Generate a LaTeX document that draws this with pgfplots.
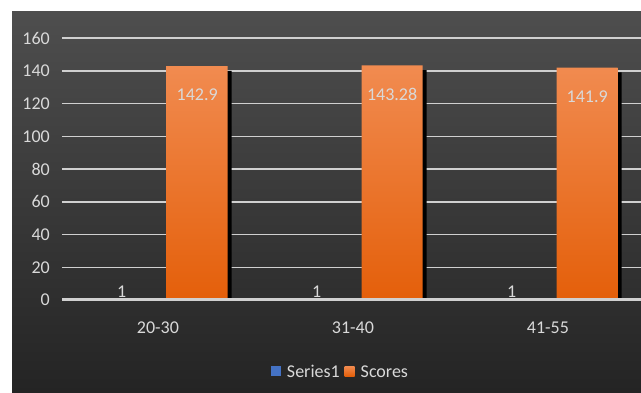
\documentclass[border=0pt]{standalone}
\usepackage{pgfplots}
\pgfplotsset{compat=1.18}
\usepackage{fontspec}
\setmainfont{Carlito}
\definecolor{txt}{HTML}{D9D9D9}
\definecolor{gridc}{HTML}{D0D0D0}
\definecolor{bgtop}{HTML}{4E4E4E}
\definecolor{bgbot}{HTML}{242424}
\definecolor{orTop}{HTML}{F18B50}
\definecolor{orBot}{HTML}{E45F0A}
\definecolor{blueS}{HTML}{4472C4}
\begin{document}
\begin{tikzpicture}
\useasboundingbox (0,0) rectangle (641pt,392pt);
\fill[white] (0,0) rectangle (641pt,392pt);
\shade[top color=bgtop, bottom color=bgbot] (12pt,0) rectangle (641pt,380pt);
\begin{axis}[
  at={(62pt,92pt)}, anchor=south west,
  scale only axis, width=579pt, height=262pt,
  xmin=-0.492, xmax=2.477, ymin=0, ymax=160,
  clip=false,
  axis line style={draw=none},
  major tick length=0pt,
  ytick={0,20,...,160},
  ymajorgrids, grid style={line width=1.5pt, color=gridc},
  xtick={0,1,2}, xticklabels={20-30,31-40,41-55},
  tick label style={font=\fontsize{18}{20}\selectfont, text=txt, inner sep=0pt},
  yticklabel shift=12pt,
  xticklabel shift=22pt,
  /pgf/number format/assume math mode=true,
  ybar, bar width=61pt,
  legend style={draw=none, fill=none, at={(0.481,-0.275)}, anchor=center,
    font=\fontsize{18}{20}\selectfont, text=txt,
    /tikz/every odd column/.append style={column sep=4pt},
    /tikz/every even column/.append style={column sep=3pt}},
  legend columns=-1,
  legend image code/.code={\fill[#1] (0pt,-4pt) rectangle (10pt,6pt);},
]
\addplot[fill=black, draw=none, bar shift=43.2pt, forget plot]
  coordinates {(0,140.0) (1,140.4) (2,139.0)};
\addplot[fill=blueS, draw=none, bar shift=-39.2pt,
  nodes near coords,
  every node near coord/.append style={anchor=south, inner sep=0pt, xshift=3pt, yshift=0.4pt,
    font=\fontsize{18}{20}\selectfont, text=txt}]
  coordinates {(0,1) (1,1) (2,1)};
\addplot[top color=orTop, bottom color=orBot, draw=none, bar shift=39.2pt,
  nodes near coords,
  every node near coord/.append style={anchor=center, inner sep=0pt, yshift=-28.7pt,
    font=\fontsize{18}{20}\selectfont, text=txt}]
  coordinates {(0,142.9) (1,143.28) (2,141.9)};
\legend{Series1, Scores}
\fill[gridc] (axis cs:-0.492,-0.35) rectangle (axis cs:2.477,1.05);
\end{axis}
\end{tikzpicture}
\end{document}
